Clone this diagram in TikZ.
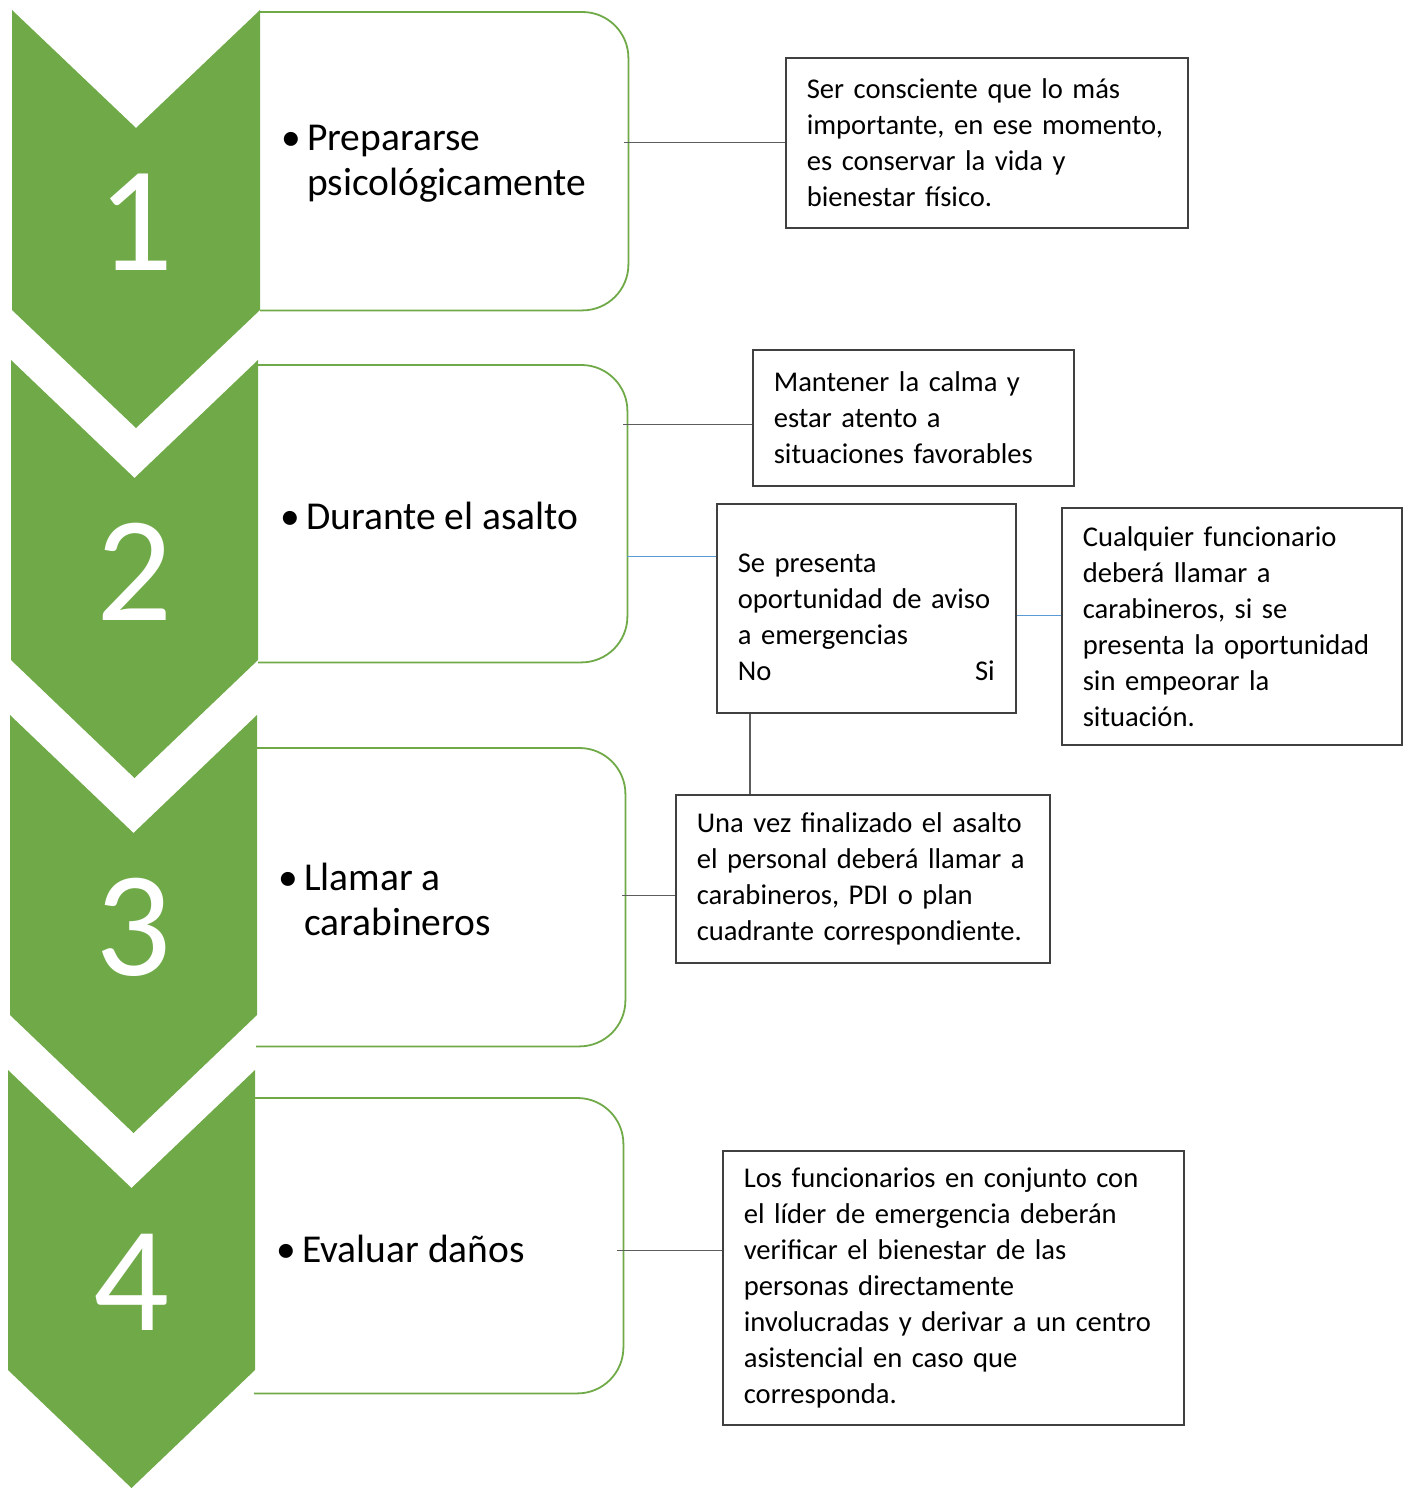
\documentclass[tikz,border=0pt]{standalone}
\usepackage{fontspec}
\setmainfont{Carlito}
\definecolor{stepgreen}{RGB}{112,170,72}
\definecolor{linkblue}{RGB}{91,155,213}
\definecolor{boxgray}{RGB}{64,64,64}

\begin{document}
\begin{tikzpicture}[
    x = 1pt, y = -1pt,
    chevron/.style = {fill=stepgreen},
    step num/.style = {text=white, font=\fontsize{150}{150}\selectfont, inner sep=0pt},
    step frame/.style = {inner sep=0pt, anchor=north west},
    step box/.style = {draw=stepgreen, line width=1.8pt, rounded corners=46pt},
    step lbl/.style = {anchor=west, align=left, font=\fontsize{39.5}{45}\selectfont, inner sep=0pt},
    note/.style = {draw=boxgray, line width=1.6pt, anchor=north west, align=left,
        font=\fontsize{28.6}{36}\selectfont, inner xsep=21pt, inner ysep=0pt},
    link/.style = {draw=boxgray!85, line width=1.3pt},
    blue link/.style = {draw=linkblue, line width=1.6pt}
]
\useasboundingbox (0,0) rectangle (1408,1488);

% step frames, right corners rounded
\foreach \i/\xl/\yt/\xr/\yb in {1/260/12/628/310, 2/258/365/627/662, 3/256/748/625/1046, 4/254/1098/623/1393}{
    \node[step frame, minimum width={(\xr-\xl)*1pt}, minimum height={(\yb-\yt)*1pt}] (b\i) at (\xl,\yt) {};
    \draw[step box] (b\i.north west) -- (b\i.north east) -- (b\i.south east) -- (b\i.south west);
}

% chevrons with numbers
\foreach \i/\xl/\xr/\yt in {1/12/260/10, 2/11/258/360, 3/10/257/715, 4/8/255/1070}{
    \pgfmathsetmacro\xc{(\xl+\xr)/2}
    \fill[chevron] (\xl,\yt) -- (\xc,\yt+118) -- (\xr,\yt) -- (\xr,\yt+300)
        -- (\xc,\yt+418) -- (\xl,\yt+300) -- cycle;
    \node[step num] (n\i) at (\xc,\yt+212) {\i};
}

\node[step lbl] (l1) at (307,164) {\llap{\textbullet\hspace{6pt}}Prepararse\\psicológicamente};
\node[step lbl] (l2) at (306,516) {\llap{\textbullet\hspace{6pt}}Durante el asalto};
\node[step lbl] (l3) at (304,899) {\llap{\textbullet\hspace{6pt}}Llamar a\\carabineros};
\node[step lbl] (l4) at (302,1249) {\llap{\textbullet\hspace{6pt}}Evaluar daños};

\node[note, text width=360pt, minimum height=170pt] (ra) at (785,57)
    {Ser consciente que lo más\\importante, en ese momento,\\es conservar la vida y\\bienestar físico.};
\node[note, text width=279pt, minimum height=136pt] (rb) at (752,349)
    {Mantener la calma y\\estar atento a\\situaciones favorables};
\node[note, text width=257pt, minimum height=209pt] (rc) at (716,503)
    {\mbox{}\\Se presenta\\oportunidad de aviso\\a emergencias\\No\hfill Si};
\node[note, text width=298pt, minimum height=237pt] (rd) at (1061,507)
    {Cualquier funcionario\\deberá llamar a\\carabineros, si se\\presenta la oportunidad\\sin empeorar la\\situación.};
\node[note, text width=332pt, minimum height=168pt] (re) at (675,794)
    {Una vez finalizado el asalto\\el personal deberá llamar a\\carabineros, PDI o plan\\cuadrante correspondiente.};
\node[note, text width=419pt, minimum height=274pt] (rf) at (722,1150)
    {Los funcionarios en conjunto con\\el líder de emergencia deberán\\verificar el bienestar de las\\personas directamente\\involucradas y derivar a un centro\\asistencial en caso que\\corresponda.};

\coordinate (ib) at ([yshift=-7pt]rb.west);
\coordinate (ic) at ([yshift=52pt]rc.west);
\coordinate (id) at ([yshift=11pt]rd.west);
\coordinate (ie) at ([yshift=-17pt]re.west);
\coordinate (if) at ([yshift=37pt]rf.west);
\coordinate (no) at ([xshift=34pt]rc.south west);

\draw[link] ([xshift=-4pt]b1.east |- ra.west) -- (ra.west);
\draw[link] ([xshift=-4pt]b2.east |- ib) -- (ib);
\draw[blue link] (b2.east |- ic) -- (ic);
\draw[blue link] (rc.east |- id) -- (id);
\draw[link] (no) -- (no |- re.north);
\draw[link] ([xshift=-3pt]b3.east |- ie) -- (ie);
\draw[link] ([xshift=-6pt]b4.east |- if) -- (if);
\end{tikzpicture}
\end{document}
